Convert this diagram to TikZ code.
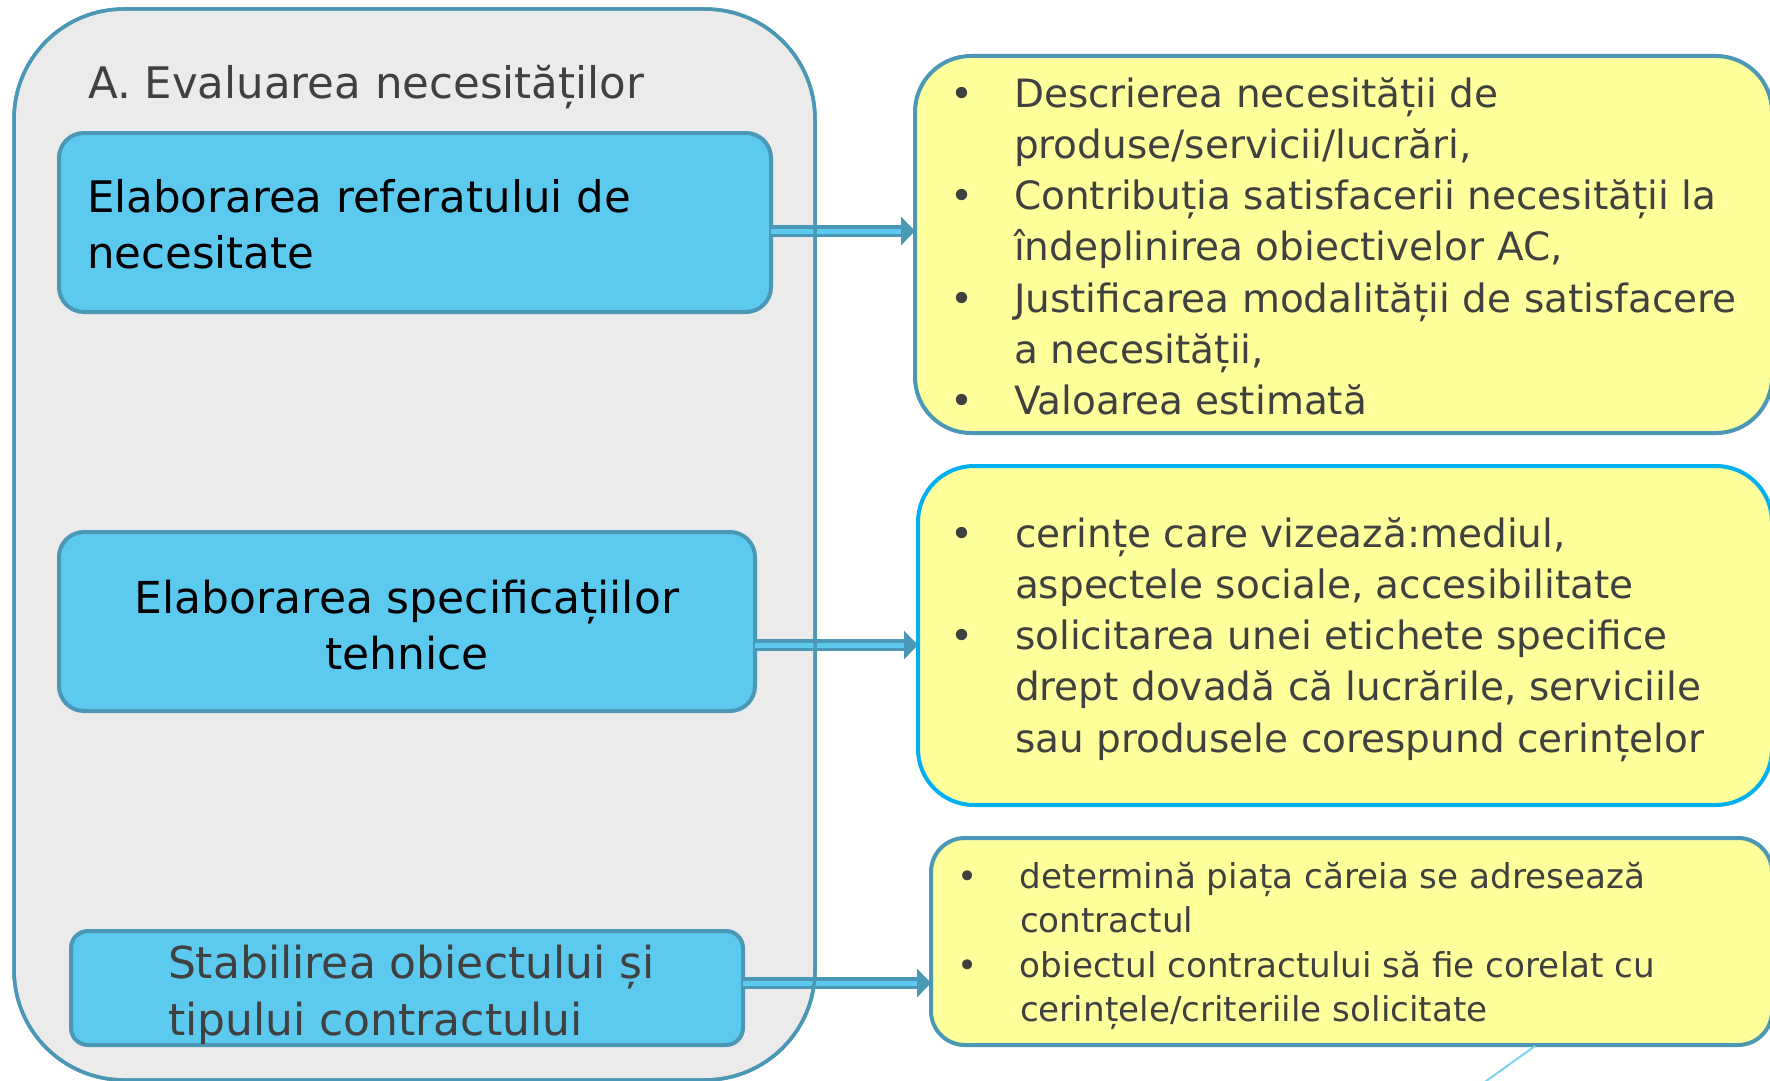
\documentclass[tikz,border=0pt]{standalone}
\usepackage{fontspec}
\setmainfont{DejaVu Sans}
\usetikzlibrary{arrows.meta}
\definecolor{frame}{HTML}{4A98B5}
\definecolor{gbg}{HTML}{EBEBEB}
\definecolor{skyb}{HTML}{5CC9EF}
\definecolor{yel}{HTML}{FFFF9B}
\definecolor{cyanb}{HTML}{00B0F0}
\definecolor{txt}{HTML}{404040}
\definecolor{lineb}{HTML}{7DD3F0}
\newcommand{\mleft}[2]{\vtop{\baselineskip=#1\lineskiplimit=-100pt\lineskip=0pt\halign{##\hfil\cr#2\cr}}}
\newcommand{\mcent}[2]{\vtop{\baselineskip=#1\lineskiplimit=-100pt\lineskip=0pt\halign{\hfil##\hfil\cr#2\cr}}}
\newcommand{\blist}[3]{\vtop{\baselineskip=#1\lineskiplimit=-100pt\lineskip=0pt\halign{\hbox to #2{\hbox to 0pt{\hss##\hss}\hfil}&##\hfil\cr#3\cr}}}
\begin{document}
\begin{tikzpicture}[x=1pt,y=-1pt,
  outerbox/.style={draw=frame, fill=gbg, line width=3.5pt, rounded corners=110pt, inner sep=0pt, outer sep=0pt, anchor=north west},
  bluebox/.style={draw=frame, fill=skyb, line width=4pt, rounded corners=25pt, inner sep=0pt, outer sep=0pt, anchor=north west},
  yelbox/.style={draw=frame, fill=yel, line width=4pt, rounded corners=56pt, inner sep=0pt, outer sep=0pt, anchor=north west},
  label/.style={inner sep=0pt, outer sep=0pt},
  conn/.style={draw=frame, line width=3.5pt, double=skyb, double distance=5pt, -{Triangle[length=14pt,width=28pt]}},
]
\useasboundingbox (0,0) rectangle (1770,1081);
% outer container
\node[outerbox, minimum width=801pt, minimum height=1071pt] (outer) at (14,9) {};
\node[label, anchor=base west, text=txt, font=\fontsize{43.5}{50}\selectfont] (title) at (88,99) {A. Evaluarea necesităților};
% blue boxes
\node[bluebox, minimum width=712pt, minimum height=179pt] (b1) at (59,133) {};
\node[bluebox, minimum width=696pt, minimum height=179pt] (b2) at (59,532) {};
\node[bluebox, rounded corners=17pt, minimum width=672pt, minimum height=114pt] (b3) at (71,931) {};
\node[label, anchor=base west, text=black, font=\fontsize{43.5}{56}\selectfont] (t1) at (87,212)
  {\mleft{56pt}{Elaborarea referatului de\cr necesitate}};
\node[label, anchor=base, text=black, font=\fontsize{44}{56}\selectfont] (t2) at (407,613)
  {\mcent{56pt}{Elaborarea specificațiilor\cr tehnice}};
\node[label, anchor=base west, text=txt, font=\fontsize{44}{56}\selectfont] (t3) at (168,978)
  {\mleft{57pt}{Stabilirea obiectului și\cr tipului contractului}};
% yellow boxes
\node[yelbox, minimum width=857pt, minimum height=377pt] (y1) at (915,56) {};
\node[yelbox, draw=cyanb, minimum width=854pt, minimum height=339pt] (y2) at (918,466) {};
\node[yelbox, rounded corners=34pt, minimum width=841pt, minimum height=207pt] (y3) at (931,838) {};
\node[label, anchor=base west, text=txt, font=\fontsize{39}{51}\selectfont] (l1) at (962,107)
  {\blist{51.3pt}{52pt}{•&Descrierea necesității de\cr &produse/servicii/lucrări,\cr •&Contribuția satisfacerii necesității la\cr &îndeplinirea obiectivelor AC,\cr •&Justificarea modalității de satisfacere\cr &a necesității,\cr •&Valoarea estimată}};
\node[label, anchor=base west, text=txt, font=\fontsize{39}{51}\selectfont] (l2) at (962,547)
  {\blist{51.3pt}{53pt}{•&cerințe care vizează:mediul,\cr &aspectele sociale, accesibilitate\cr •&solicitarea unei etichete specifice\cr &drept dovadă că lucrările, serviciile\cr &sau produsele corespund cerințelor}};
\node[label, anchor=base west, text=txt, font=\fontsize{34.2}{44}\selectfont] (l3) at (968,888)
  {\blist{44.5pt}{52pt}{•&determină piața căreia se adresează\cr &contractul\cr •&obiectul contractului să fie corelat cu\cr &cerințele/criteriile solicitate}};
% connectors
\coordinate (r1) at (0,231);
\coordinate (r2) at (0,645);
\coordinate (r3) at (0,983);
\draw[conn] (b1.east |- r1) -- (y1.west |- r1);
\draw[conn] (b2.east |- r2) -- (y2.west |- r2);
\draw[conn] (b3.east |- r3) -- (y3.west |- r3);
% outer border redrawn over the connectors
\draw[draw=frame, line width=3.5pt, rounded corners=110pt] (outer.north west) rectangle (outer.south east);
% partial line at the bottom right
\coordinate (p1) at (1535,1046);
\coordinate (p2) at (1482,1084);
\draw[lineb, line width=2pt] (p1) -- (p2);
\end{tikzpicture}
\end{document}
